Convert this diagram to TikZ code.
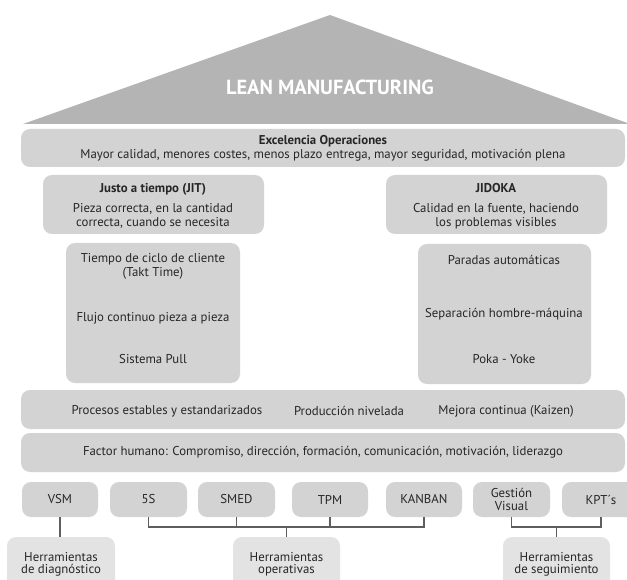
\documentclass[tikz,border=0pt]{standalone}
\usepackage{fontspec}
\setmainfont{PT Sans}
\definecolor{roofgray}{HTML}{B4B4B4}
\definecolor{boxgray}{HTML}{D3D3D3}
\definecolor{basegray}{HTML}{E3E3E3}
\definecolor{linegray}{HTML}{5E5E5E}
\definecolor{inkgray}{HTML}{262626}
\begin{document}
\begin{tikzpicture}[x=1pt,y=-1pt,
  panel/.style={fill=boxgray, rounded corners=9pt, draw=none, inner sep=0pt,
    text=inkgray, align=center, font=\fontsize{12.8}{14}\selectfont},
  basepanel/.style={panel, fill=basegray},
  label/.style={text=inkgray, align=center, inner sep=0pt,
    font=\fontsize{12.8}{14}\selectfont},
  conn/.style={draw=linegray, line width=1.1pt}]
\useasboundingbox (0,0) rectangle (627,580);
\clip (0,0) rectangle (627,580);

% roof
\coordinate (roofL) at (23,124);
\coordinate (roofT) at (330,15);
\coordinate (roofR) at (630,124);
\fill[roofgray] (roofL) -- (roofT) -- (roofR) -- cycle;
\node[text=white, inner sep=0pt, font=\bfseries\fontsize{20.4}{22}\selectfont]
  (lean) at (330,87) {LEAN MANUFACTURING};

% operational excellence band
\node[panel, minimum width=604pt, minimum height=38pt] (exc) at (323,148)
  {\textbf{Excelencia Operaciones}\\
   Mayor calidad, menores costes, menos plazo entrega, mayor seguridad, motivación plena};

% the two headers
\node[panel, minimum width=221pt, minimum height=59pt] (jit) at (153.5,204.5) {};
\node[label] (jittxt) at (153,206)
  {\textbf{Justo a tiempo (JIT)}\\[6pt]Pieza correcta, en la cantidad\\correcta, cuando se necesita};
\node[panel, minimum width=221pt, minimum height=59pt] (jid) at (496.5,204.5) {};
\node[label] (jidtxt) at (496,206)
  {\textbf{JIDOKA}\\[6pt]Calidad en la fuente, haciendo\\los problemas visibles};

% pillars
\node[panel, minimum width=174pt, minimum height=140pt] (pilL) at (153,313) {};
\node[label] (takt) at (153,266.5) {Tiempo de ciclo de cliente\\(Takt Time)};
\node[label] (flujo) at (153,318) {Flujo continuo pieza a pieza};
\node[label] (pull) at (153,359) {Sistema Pull};

\node[panel, minimum width=173pt, minimum height=140pt] (pilR) at (504.5,314) {};
\node[label] (paradas) at (504,260) {Paradas automáticas};
\node[label] (separa) at (504,314) {Separación hombre-máquina};
\node[label] (poka) at (504,359) {Poka - Yoke};

% foundation bands
\node[panel, minimum width=604pt, minimum height=39pt] (proc) at (323,409.5) {};
\node[label] (estab) at (167,411) {Procesos estables y estandarizados};
\node[label] (nivel) at (349,411) {Producción nivelada};
\node[label] (kaizen) at (506,411) {Mejora continua (Kaizen)};

\node[panel, minimum width=604pt, minimum height=39pt] (fact) at (323,452.5)
  {Factor humano: Compromiso, dirección, formación, comunicación, motivación, liderazgo};

% tools
\tikzset{tool/.style={panel, minimum height=35pt}}
\node[tool, minimum width=76pt] (vsm) at (60,499.5) {VSM};
\node[tool, minimum width=77pt] (s5) at (148.5,499.5) {5S};
\node[tool, minimum width=77pt] (smed) at (236.5,499.5) {SMED};
\node[tool, minimum width=76pt] (tpm) at (330,499.5) {TPM};
\node[tool, minimum width=76pt] (kanban) at (424,499.5) {KANBAN};
\node[tool, minimum width=77pt] (gestion) at (511.5,499.5) {Gestión\\[-1pt]Visual};
\node[tool, minimum width=78pt] (kpt) at (601,499.5) {KPT´s};

% tool families
\node[basepanel, minimum width=108pt, minimum height=54pt] (diag) at (61,564)
  {Herramientas\\[-2pt]de diagnóstico};
\node[basepanel, minimum width=107pt, minimum height=54pt] (oper) at (286.5,564)
  {Herramientas\\[-2pt]operativas};
\node[basepanel, minimum width=107pt, minimum height=54pt] (seg) at (556.5,564)
  {Herramientas\\[-2pt]de seguimiento};

% connectors
\coordinate (opbar) at (286.5,527);
\coordinate (segbar) at (556.5,527);
\draw[conn] (vsm.south) -- (vsm.south |- diag.north);
\draw[conn] (s5.south) |- (opbar) -| (kanban.south);
\draw[conn] (smed.south) -- (smed.south |- opbar);
\draw[conn] (tpm.south) -- (tpm.south |- opbar);
\draw[conn] (opbar) -- (oper.north);
\draw[conn] (gestion.south) |- (segbar) -| (kpt.south);
\draw[conn] (segbar) -- (seg.north);
\end{tikzpicture}
\end{document}
